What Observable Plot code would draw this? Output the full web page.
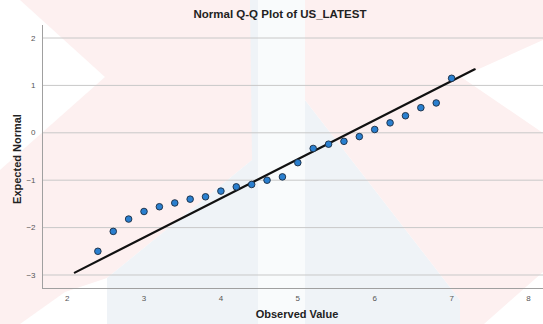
<!DOCTYPE html>
<html>
<head>
<meta charset="utf-8">
<script src="https://cdn.jsdelivr.net/npm/d3@7"></script>
<script src="https://cdn.jsdelivr.net/npm/@observablehq/plot@0.6"></script>
<style>
  html, body { margin: 0; padding: 0; background: #fff; }
  #wrap { position: relative; width: 543px; height: 324px; overflow: hidden; font-family: "Liberation Sans", Arial, sans-serif; }
  #bg { position: absolute; left: 0; top: 0; }
  #chart { position: absolute; left: 0; top: 0; }
  #title { position: absolute; left: 180px; width: 200px; top: 8px; text-align: center; font-weight: bold; font-size: 11.5px; color: #222; }
  #xlabel { position: absolute; left: 237px; width: 120px; top: 308px; text-align: center; font-weight: bold; font-size: 11px; color: #222; }
  #ylabel { position: absolute; left: -43px; width: 120px; top: 153px; text-align: center; font-weight: bold; font-size: 11px; color: #222; transform: rotate(-90deg); }
</style>
</head>
<body>
<div id="wrap">
  <svg id="bg" width="543" height="324">
    <rect x="258" y="0" width="47" height="324" fill="#f9fbfc"/>
    <polygon points="20,0 252,0 252,160 107,278 65,292 20,324 0,324 0,170 105,77" fill="#fdf0f0"/>
    <polygon points="250,0 258,0 258,324 107,324 107,278 252,160" fill="#eff3f7"/>
    <polygon points="305,100 460,300 460,324 305,324" fill="#eff3f7"/>
    <polygon points="305,0 543,0 543,40 461,77 543,133 543,272 484,324 460,324 460,300 305,100" fill="#fdf0f0"/>
  </svg>
  <div id="chart"></div>
  <div id="title">Normal Q-Q Plot of US_LATEST</div>
  <div id="xlabel">Observed Value</div>
  <div id="ylabel">Expected Normal</div>
</div>
<script>
// Observed values (x) and expected normal values (y)
const observed = [2.4, 2.6, 2.8, 3.0, 3.2, 3.4, 3.6, 3.8, 4.0, 4.2, 4.4, 4.6, 4.8, 5.0, 5.2, 5.4, 5.6, 5.8, 6.0, 6.2, 6.4, 6.6, 6.8, 7.0];
const expected = [-2.50, -2.08, -1.82, -1.66, -1.56, -1.48, -1.40, -1.35, -1.23, -1.14, -1.09, -1.00, -0.93, -0.63, -0.33, -0.24, -0.18, -0.08, 0.07, 0.21, 0.36, 0.53, 0.63, 1.15];
// Reference line endpoints
const lineX = [2.1, 7.3];
const lineY = [-2.95, 1.34];
const xTicks = [2, 3, 4, 5, 6, 7, 8];
const yTicks = [-3, -2, -1, 0, 1, 2];

const points = observed.map((x, i) => ({x, y: expected[i]}));
const refLine = lineX.map((x, i) => ({x, y: lineY[i]}));

const chart = Plot.plot({
  width: 543,
  height: 324,
  marginLeft: 42,
  marginRight: 0,
  marginTop: 25,
  marginBottom: 36,
  style: {background: "transparent", fontFamily: "Liberation Sans, Arial, sans-serif", fontSize: "8px", color: "#555"},
  x: {domain: [1.68, 8.195], ticks: xTicks, label: null},
  y: {domain: [-3.285, 2.264], ticks: yTicks, label: null},
  marks: [
    Plot.gridY(yTicks, {stroke: "#c8c8c8", strokeOpacity: 1, strokeWidth: 1}),
    Plot.ruleX([1.68], {stroke: "#a0a0a0"}),
    Plot.ruleY([-3.285], {stroke: "#a0a0a0"}),
    Plot.axisX(xTicks, {tickSize: 0, tickPadding: 7, fill: "#555", fontSize: 8, label: null}),
    Plot.axisY(yTicks, {tickSize: 0, tickPadding: 7, fill: "#555", fontSize: 8, label: null}),
    Plot.line(refLine, {x: "x", y: "y", stroke: "#111", strokeWidth: 2.2}),
    Plot.dot(points, {x: "x", y: "y", r: 3.3, fill: "#2a7fcf", stroke: "#1b2b40", strokeWidth: 0.9})
  ]
});
document.getElementById("chart").appendChild(chart);
</script>
</body>
</html>
